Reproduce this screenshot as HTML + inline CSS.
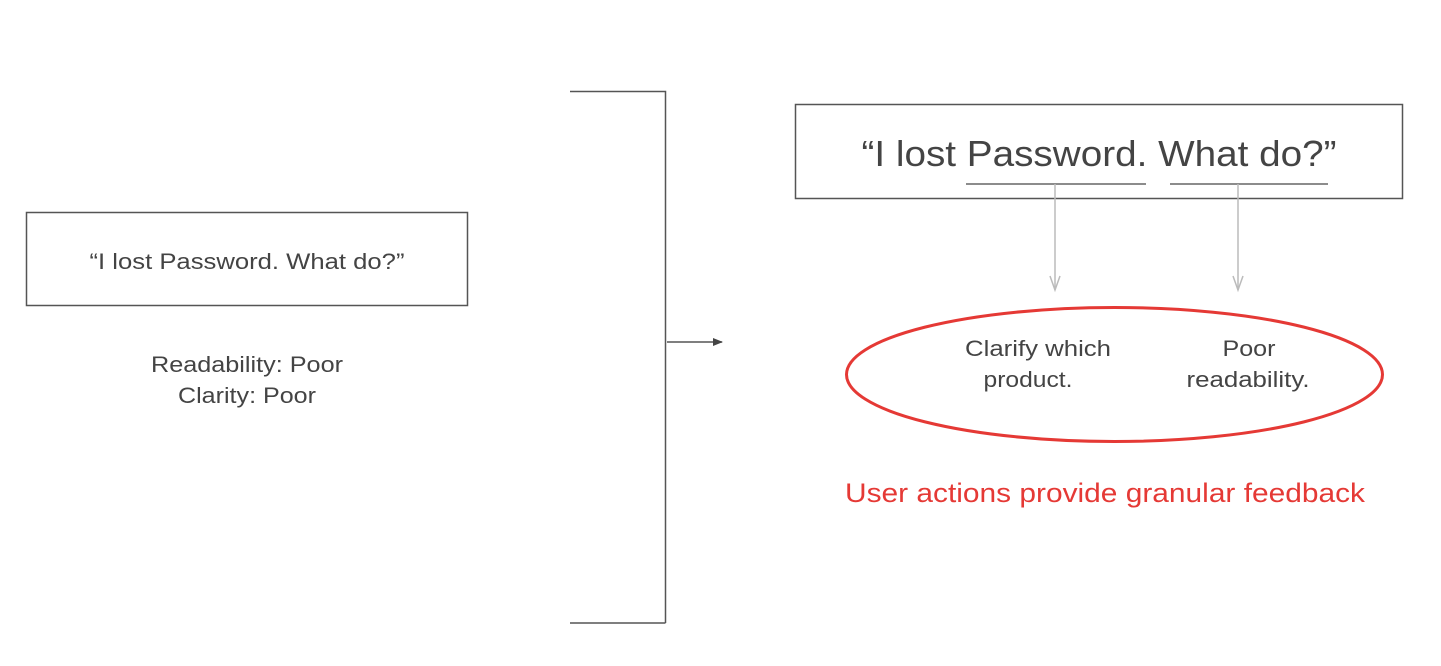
<!DOCTYPE html>
<html><head><meta charset="utf-8"><style>html,body{margin:0;padding:0;background:#fff}svg{display:block}</style></head>
<body>
<svg width="1441" height="666" viewBox="0 0 1441 666" xmlns="http://www.w3.org/2000/svg" font-family="Liberation Sans, sans-serif">
<defs>
<marker id="ah" markerWidth="10" markerHeight="8" refX="9" refY="4" orient="auto" markerUnits="userSpaceOnUse"><path d="M0,0 L10,4 L0,8 Z" fill="#444"/></marker>
</defs>
<rect x="26.5" y="212.5" width="441" height="93" fill="none" stroke="#555" stroke-width="1.5"/>
<text x="247" y="269" font-size="22" fill="#444" text-anchor="middle" textLength="315" lengthAdjust="spacingAndGlyphs">“I lost Password. What do?”</text>
<text x="247" y="372" font-size="22" fill="#444" text-anchor="middle" textLength="192" lengthAdjust="spacingAndGlyphs">Readability: Poor</text>
<text x="247" y="403" font-size="22" fill="#444" text-anchor="middle" textLength="138" lengthAdjust="spacingAndGlyphs">Clarity: Poor</text>
<path d="M570,91.5 H665.5 V623 M570,623 H665.5" fill="none" stroke="#555" stroke-width="1.5"/>
<line x1="667" y1="342" x2="722" y2="342" stroke="#555" stroke-width="1.5" marker-end="url(#ah)"/>
<rect x="795.5" y="104.5" width="607" height="94" fill="none" stroke="#555" stroke-width="1.5"/>
<text x="1099" y="166" font-size="36" fill="#444" text-anchor="middle" textLength="475" lengthAdjust="spacingAndGlyphs">“I lost Password. What do?”</text>
<line x1="966" y1="184" x2="1146" y2="184" stroke="#666" stroke-width="1.5"/>
<line x1="1170" y1="184" x2="1328" y2="184" stroke="#666" stroke-width="1.5"/>
<line x1="1055" y1="184" x2="1055" y2="290" stroke="#bbb" stroke-width="1.5"/>
<path d="M1050,276 L1055,290 L1060,276" fill="none" stroke="#bbb" stroke-width="1.5"/>
<line x1="1238" y1="184" x2="1238" y2="290" stroke="#bbb" stroke-width="1.5"/>
<path d="M1233,276 L1238,290 L1243,276" fill="none" stroke="#bbb" stroke-width="1.5"/>
<ellipse cx="1114.5" cy="374.5" rx="268" ry="67" fill="none" stroke="#e53935" stroke-width="3"/>
<text x="1038" y="356" font-size="22" fill="#444" text-anchor="middle" textLength="146" lengthAdjust="spacingAndGlyphs">Clarify which</text>
<text x="1028" y="387" font-size="22" fill="#444" text-anchor="middle" textLength="89" lengthAdjust="spacingAndGlyphs">product.</text>
<text x="1249" y="356" font-size="22" fill="#444" text-anchor="middle" textLength="53" lengthAdjust="spacingAndGlyphs">Poor</text>
<text x="1248" y="387" font-size="22" fill="#444" text-anchor="middle" textLength="123" lengthAdjust="spacingAndGlyphs">readability.</text>
<text x="1105" y="502" font-size="27" fill="#e53935" text-anchor="middle" textLength="520" lengthAdjust="spacingAndGlyphs">User actions provide granular feedback</text>
</svg>
</body></html>
